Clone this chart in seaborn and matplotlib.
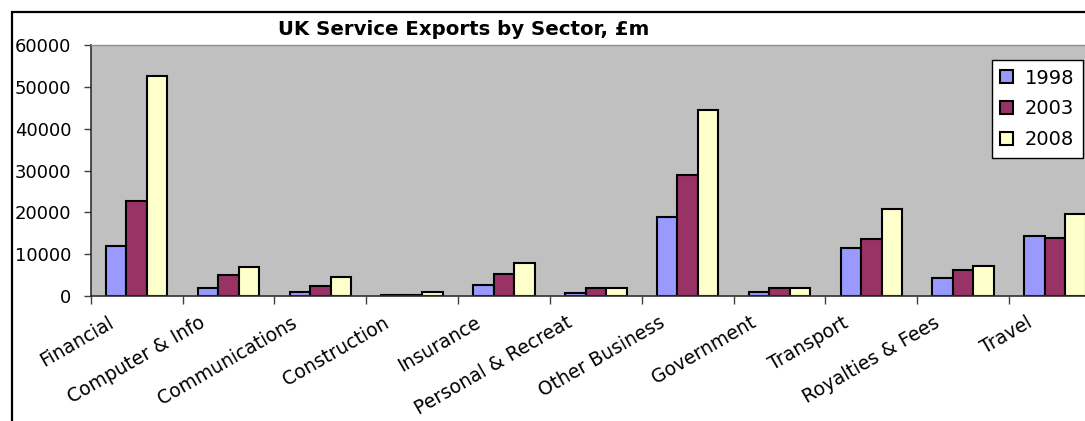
import matplotlib
matplotlib.use("Agg")
import matplotlib.pyplot as plt
import matplotlib.transforms as mtransforms
from matplotlib.patches import Rectangle
import seaborn as sns
import pandas as pd

# Export values by sector, £m
sectors = ["Financial", "Computer & Info", "Communications", "Construction",
           "Insurance", "Personal & Recreat", "Other Business", "Government",
           "Transport", "Royalties & Fees", "Travel"]
years = ["1998", "2003", "2008"]
exports_1998 = [12000, 1800, 1000, 200, 2600, 650, 18900, 1000, 11550, 4200, 14300]
exports_2003 = [22800, 5000, 2300, 250, 5300, 1800, 29000, 1800, 13550, 6100, 13900]
exports_2008 = [52500, 6900, 4600, 1000, 8000, 1800, 44400, 1800, 20800, 7250, 19700]
yticks = [0, 10000, 20000, 30000, 40000, 50000, 60000]
bar_colors = ["#9999FF", "#993366", "#FFFFCC"]

rows = []
for year, vals in zip(years, [exports_1998, exports_2003, exports_2008]):
    for s, v in zip(sectors, vals):
        rows.append({"sector": s, "year": year, "value": v})
df = pd.DataFrame(rows)

sns.set_theme(style="white")
plt.rcParams["font.family"] = ["DejaVu Sans"]
plt.rcParams["text.color"] = "black"
plt.rcParams["xtick.color"] = "black"
plt.rcParams["ytick.color"] = "black"

W, H = 1085, 421
fig = plt.figure(figsize=(W / 100, H / 100), dpi=100)
fig.patch.set_facecolor("white")

# plot area in pixel coordinates: left 90.7, right 1101, top 45, bottom 296
left, right, top, bottom = 90.7, 1101, 45, 296
ax = fig.add_axes([left / W, 1 - bottom / H, (right - left) / W, (bottom - top) / H])
ax.set_facecolor("#C0C0C0")

sns.barplot(data=df, x="sector", y="value", hue="year", order=sectors,
            hue_order=years, palette=bar_colors, saturation=1, width=0.67,
            edgecolor="black", linewidth=1.5, ax=ax)

ax.set_xlim(-0.5, len(sectors) - 0.5)
ax.set_ylim(0, 60000)
ax.set_yticks(yticks)
ax.set_yticklabels([str(t) for t in yticks], fontsize=13, color="black")
ax.set_xlabel("")
ax.set_ylabel("")

# category boundary ticks on the x axis
ax.set_xticks([i - 0.5 for i in range(len(sectors) + 1)], minor=True)
ax.tick_params(axis="x", which="minor", length=6, width=1, color="#404040", direction="out", bottom=True)
ax.tick_params(axis="x", which="major", length=0, pad=0)
ax.tick_params(axis="y", which="major", length=5, width=1, color="#404040", direction="out", left=True, pad=9)

labels = ax.set_xticklabels(sectors, rotation=30, ha="right", va="baseline",
                            rotation_mode="anchor", fontsize=13.5, color="black")
offset = mtransforms.ScaledTranslation(-22 / 100, -30 / 100, fig.dpi_scale_trans)
for lab in labels:
    lab.set_transform(lab.get_transform() + offset)

for side in ["left", "bottom"]:
    ax.spines[side].set_color("#303030")
    ax.spines[side].set_linewidth(1.2)
ax.spines["top"].set_color("#909090")
ax.spines["top"].set_linewidth(1)
ax.spines["right"].set_visible(False)

# legend
handles, _ = ax.get_legend_handles_labels()
leg = ax.legend(handles, years, loc="upper right",
                bbox_to_anchor=(1083 / W, 1 - 60 / H), bbox_transform=fig.transFigure,
                fontsize=14, frameon=True, fancybox=False, framealpha=1,
                edgecolor="black", handlelength=0.65, handleheight=0.65,
                handletextpad=0.6, labelspacing=0.6, borderpad=0.45,
                borderaxespad=0)
leg.get_frame().set_linewidth(1)
leg.get_frame().set_facecolor("white")
for t in leg.get_texts():
    t.set_color("black")

# title
fig.text(463.7 / W, 1 - 35 / H, "UK Service Exports by Sector, £m",
         ha="center", va="baseline", fontsize=14.2, fontweight="bold", color="black")

# chart border
fig.patches.append(Rectangle((11.7 / W, -0.1), 1.2, 1 - 11.7 / H + 0.1,
                             transform=fig.transFigure, fill=False,
                             edgecolor="black", linewidth=1.6, zorder=10))

fig.savefig("out.png", dpi=100)
